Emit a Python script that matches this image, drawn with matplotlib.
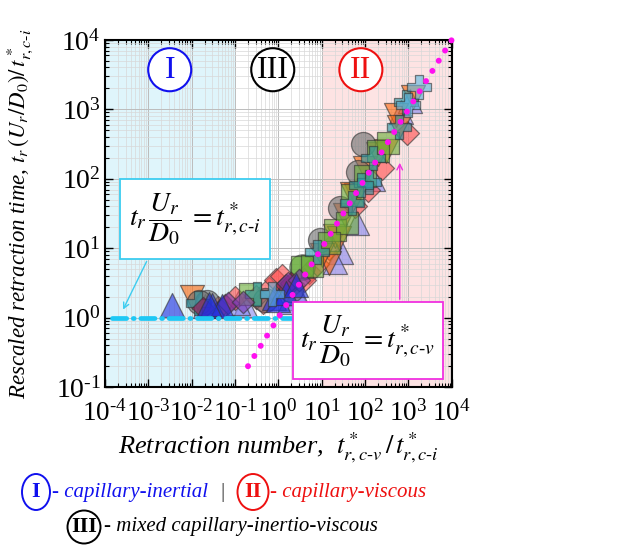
import matplotlib
matplotlib.use("Agg")
import matplotlib.pyplot as plt
import matplotlib.patches as patches
import numpy as np
from matplotlib.ticker import LogLocator, NullFormatter, FuncFormatter

plt.rcParams['font.family'] = ['Liberation Serif', 'DejaVu Serif']
plt.rcParams['mathtext.fontset'] = 'stix'

HY = '\u2010'  # plain hyphen inside math text

# regime limits on the retraction number axis
regime_edges = [1e-4, 1e-1, 1e1, 1e4]

# limiting laws
inertial_x = [1.5e-4, 10]
inertial_y = [1, 1]
viscous_x = [0.2, 1e4]
viscous_y = [0.2, 1e4]

# experimental series
tri_blue_x = [3.5e-3, 0.03, 0.05, 0.8, 1.0, 1.5, 2.5, 0.025]
tri_blue_y = [1.5, 1.5, 1.45, 1.9, 1.8, 2.3, 3.0, 1.55]
tri_purple_x = [0.02, 0.17, 0.12, 2.6, 3.0, 28, 67, 690, 1100, 20, 150, 1.8]
tri_purple_y = [1.45, 1.5, 1.6, 2.2, 1.9, 8.9, 23, 910, 1300, 6.3, 100, 1.7]
dia_red_x = [0.04, 0.1, 0.44, 0.6, 0.9, 1.2, 0.3, 5, 8, 15, 250, 910, 60, 120, 2.2, 4]
dia_red_y = [1.4, 1.9, 1.7, 2.6, 3.5, 4.0, 2.0, 4.5, 6, 10, 145, 460, 40, 70, 3.0, 3.5]
tri_orange_x = [0.01, 15, 20, 35, 63, 98, 200, 520, 620, 1300, 50, 25, 300, 10]
tri_orange_y = [2.0, 6.2, 15, 30, 59, 145, 230, 830, 560, 1500, 60, 14, 250, 8]
sq_green_x = [0.22, 3.6, 6, 20, 38, 50, 330, 100, 15, 200]
sq_green_y = [2.2, 5.4, 5.5, 18, 23, 59, 330, 110, 12, 250]
plus_teal_x = [0.0138, 0.33, 8, 50, 125, 620, 900, 80, 150]
plus_teal_y = [1.6, 2.2, 8.8, 45, 89, 560, 1260, 80, 200]
circ_gray_x = [0.023, 0.5, 9, 26, 68, 89, 2.0, 0.015]
circ_gray_y = [1.7, 1.8, 13, 38, 125, 320, 2.5, 1.7]
dia_maroon_x = [0.018, 0.06, 1.5, 2.0]
dia_maroon_y = [1.4, 1.5, 3.0, 3.2]
plus_light_x = [1800, 1000, 0.7]
plus_light_y = [2100, 1150, 2.2]
dia_violet_x = [0.068, 0.15, 1.7, 3.0]
dia_violet_y = [1.6, 1.7, 3.2, 3.5]
circ_green_x = [3.6]
circ_green_y = [5.4]

series = [
    ('^', '#8a8af0', 300, tri_purple_x, tri_purple_y),
    ('D', '#ff5050', 150, dia_red_x, dia_red_y),
    ('v', '#ff6a10', 300, tri_orange_x, tri_orange_y),
    ('o', '#707070', 300, circ_gray_x, circ_gray_y),
    ('o', '#5aaa3a', 330, circ_green_x, circ_green_y),
    ('s', '#6cae3a', 230, sq_green_x, sq_green_y),
    ('P', '#2a9aa8', 300, plus_teal_x, plus_teal_y),
    ('D', '#a01050', 130, dia_maroon_x, dia_maroon_y),
    ('D', '#7a3ab0', 130, dia_violet_x, dia_violet_y),
    ('^', '#2030e0', 300, tri_blue_x, tri_blue_y),
    ('P', '#60b8e0', 300, plus_light_x, plus_light_y),
]

fig = plt.figure(figsize=(6.24, 5.46), dpi=100)
ax = fig.add_axes([0.168, 0.291, 0.556, 0.636])
ax.set_xscale('log')
ax.set_yscale('log')
ax.set_xlim(1e-4, 1e4)
ax.set_ylim(1e-1, 1e4)

# regime shading
ax.axvspan(regime_edges[0], regime_edges[1], color='#dff5fb', zorder=0, lw=0)
ax.axvspan(regime_edges[2], regime_edges[3], color='#fde3e3', zorder=0, lw=0)

ax.set_axisbelow(True)
ax.grid(True, which='major', color='#bcbcbc', lw=0.7)
ax.grid(True, which='minor', color='#d8d8d8', lw=0.5)

for m, c, s, xs, ys in series:
    ax.scatter(xs, ys, marker=m, s=s, facecolor=c, edgecolor='#333333',
               alpha=0.62, linewidths=0.9, zorder=3)

ax.plot(inertial_x, inertial_y, color='#1ec8f5', lw=3.4,
        linestyle=(0, (3.0, 1.4, 0.2, 1.4)), dash_capstyle='round', zorder=4)
ax.plot(viscous_x, viscous_y, color='#ff10f0', lw=4.3,
        linestyle=(0, (0.01, 2.0)), dash_capstyle='round', zorder=5, clip_on=False)


def dec_fmt(v, pos):
    e = int(np.round(np.log10(v)))
    s = str(e).replace('-', HY)
    return '$\\mathregular{10^{' + s + '}}$'


# ticks
ax.xaxis.set_major_locator(LogLocator(base=10, numticks=20))
ax.yaxis.set_major_locator(LogLocator(base=10, numticks=20))
ax.xaxis.set_minor_locator(LogLocator(base=10, subs=range(2, 10), numticks=100))
ax.yaxis.set_minor_locator(LogLocator(base=10, subs=range(2, 10), numticks=100))
ax.xaxis.set_major_formatter(FuncFormatter(dec_fmt))
ax.yaxis.set_major_formatter(FuncFormatter(dec_fmt))
ax.xaxis.set_minor_formatter(NullFormatter())
ax.yaxis.set_minor_formatter(NullFormatter())
ax.tick_params(which='both', direction='in', top=True, right=True, colors='black')
ax.tick_params(which='major', length=6, width=1.0)
ax.tick_params(which='minor', length=3, width=0.8)
ax.tick_params(axis='x', labelsize=19.5, pad=9)
ax.tick_params(axis='y', labelsize=20, pad=3)
for sp in ax.spines.values():
    sp.set_linewidth(1.5)

ax.set_ylabel('Rescaled retraction time, $t_r\\,(U_r/D_0)/\\,t^*_{r,c' + HY + 'i}$',
              fontsize=16.5, style='italic')
ax.yaxis.set_label_coords(-0.2, 0.5)
ax.set_xlabel('Retraction number,  $t^*_{r,c' + HY + 'v}\\,/\\,t^*_{r,c' + HY + 'i}$',
              fontsize=19, style='italic')
ax.xaxis.set_label_coords(0.5, -0.125)

# regime labels in the plot
for lab, xc, col in [('I', 0.187, '#1010ee'), ('III', 0.484, 'black'), ('II', 0.738, '#ee1010')]:
    ax.add_patch(patches.Circle((xc, 0.914), 0.062, transform=ax.transAxes,
                                facecolor='white', edgecolor=col, lw=1.5, zorder=6))
    ax.text(xc, 0.912, lab, transform=ax.transAxes, ha='center', va='center',
            fontsize=23, color=col, zorder=7)

# annotation boxes
ax.add_patch(patches.Rectangle((0.043, 0.369), 0.433, 0.23, transform=ax.transAxes,
                               facecolor='white', edgecolor='#3ccdf0', lw=1.3, zorder=8))
ax.text(0.26, 0.484, '$t_r\\,\\dfrac{U_r}{D_0}\\;= t^*_{r,c' + HY + 'i}$', transform=ax.transAxes,
        ha='center', va='center', fontsize=20, zorder=9)
ax.annotate('', xy=(0.049, 0.216), xytext=(0.124, 0.369), xycoords='axes fraction',
            arrowprops=dict(arrowstyle='->', color='#3ccdf0', lw=1.0), zorder=9)

ax.add_patch(patches.Rectangle((0.542, 0.023), 0.432, 0.222, transform=ax.transAxes,
                               facecolor='white', edgecolor='#f030e0', lw=1.3, zorder=8))
ax.text(0.758, 0.134, '$t_r\\,\\dfrac{U_r}{D_0}\\;= t^*_{r,c' + HY + 'v}$', transform=ax.transAxes,
        ha='center', va='center', fontsize=20, zorder=9)
ax.annotate('', xy=(0.85, 0.654), xytext=(0.85, 0.245), xycoords='axes fraction',
            arrowprops=dict(arrowstyle='->', color='#f030e0', lw=1.0), zorder=9)

# legend for regimes below the axes
W, H = 624.0, 546.0


def fig_ellipse(xc, yc, w, h, col, lab):
    fig.add_artist(patches.Ellipse((xc / W, 1 - yc / H), w / W, h / H,
                                   transform=fig.transFigure, facecolor='none',
                                   edgecolor=col, lw=1.4))
    fig.text(xc / W, 1 - yc / H, lab, ha='center', va='center', fontsize=16,
             fontweight='bold', color=col)


fig_ellipse(36, 492, 28, 36, '#1010ee', 'I')
fig.text(52 / W, 1 - 492 / H, '- capillary-inertial', ha='left', va='center',
         fontsize=15, style='italic', color='#1010ee')
fig.text(223 / W, 1 - 492 / H, '|', ha='center', va='center', fontsize=15, color='#333333')
fig_ellipse(253, 492, 31, 36, '#ee1010', 'II')
fig.text(270 / W, 1 - 492 / H, '- capillary-viscous', ha='left', va='center',
         fontsize=15, style='italic', color='#ee1010')
fig_ellipse(84, 527, 33, 33, 'black', 'III')
fig.text(104 / W, 1 - 527 / H, '- mixed capillary-inertio-viscous', ha='left', va='center',
         fontsize=15, style='italic', color='black')

fig.savefig('out.png', dpi=100)
